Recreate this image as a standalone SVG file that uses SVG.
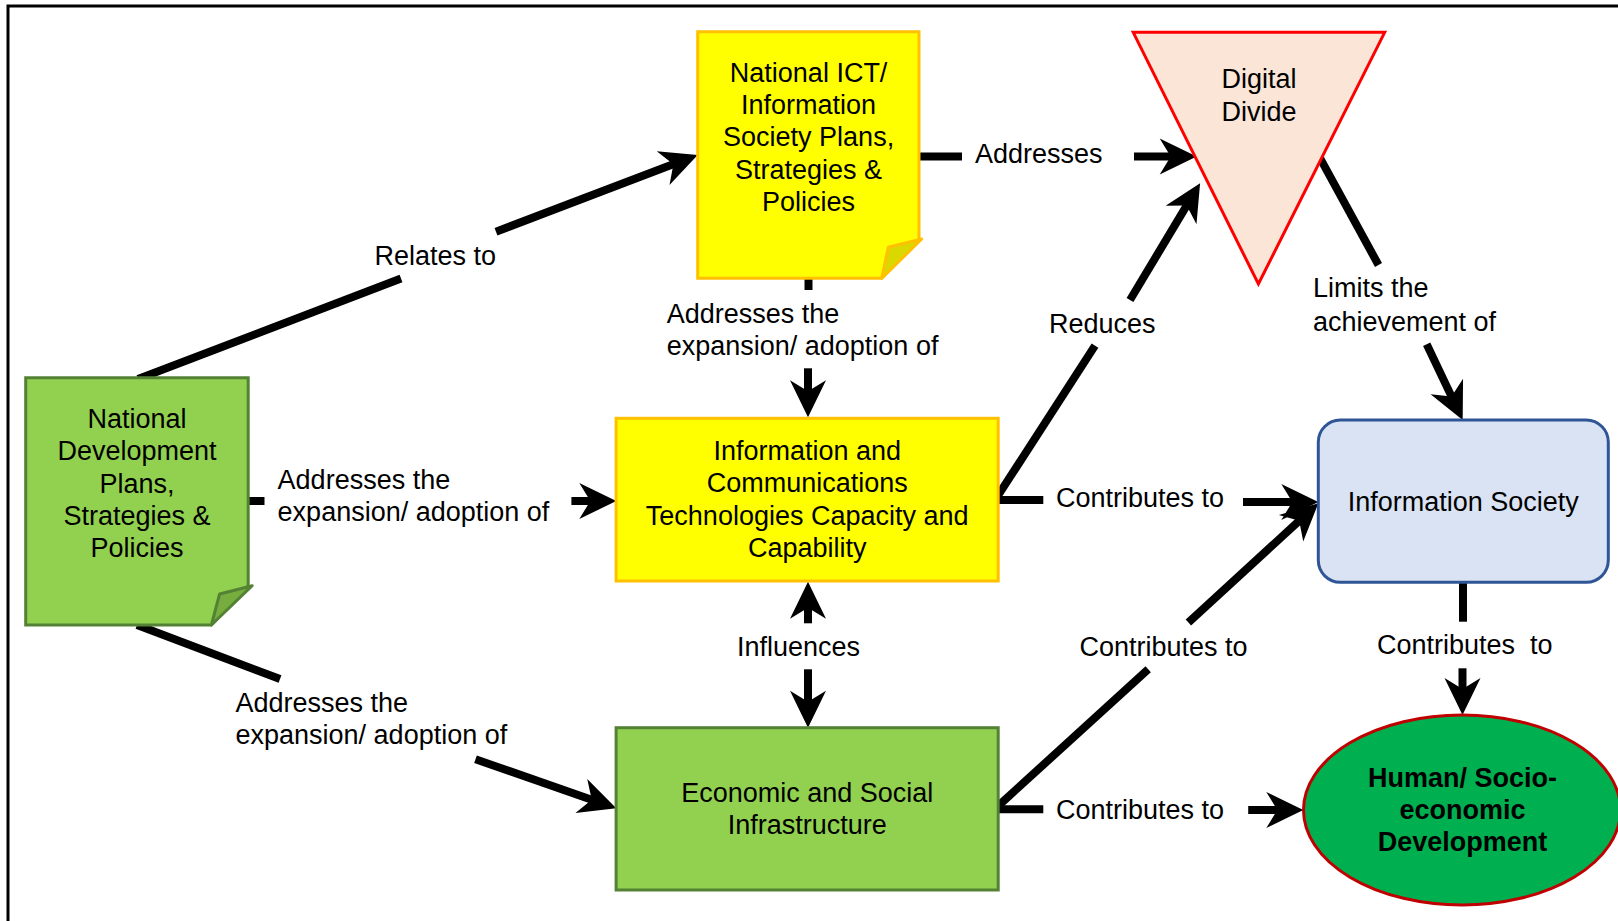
<svg xmlns="http://www.w3.org/2000/svg" width="1618" height="921" viewBox="0 0 1618 921">
  <style>
    text { font-family: "Liberation Sans", Arial, sans-serif; font-size: 27px; fill: #000; }
    .mid { text-anchor: middle; }
    .bold { font-weight: bold; }
    .edge { stroke: #000; stroke-width: 8; fill: none; stroke-linecap: butt; }
    .arrow { marker-end: url(#ah); }
  </style>
  <defs>
    <marker id="ah" viewBox="-1 -20 40 40" refX="17" refY="0" markerWidth="40" markerHeight="40" markerUnits="userSpaceOnUse" orient="auto" overflow="visible">
      <path d="M0,-18 L37,0 L0,18 L11,0 Z" fill="#000"/>
    </marker>
  </defs>

  <rect width="1618" height="921" fill="#fff"/>
  <!-- outer frame (open to the right and bottom) -->
  <path d="M8,930 V6 H1625" fill="none" stroke="#000" stroke-width="3"/>

  <!-- connectors -->
  <g id="connectors">
    <!-- Relates to -->
    <line class="edge" x1="138" y1="379" x2="401" y2="278.5"/>
    <line class="edge arrow" x1="496" y1="231.7" x2="679" y2="162.1"/>
    <!-- Addresses -->
    <line class="edge" x1="919" y1="156.5" x2="962" y2="156.5"/>
    <line class="edge arrow" x1="1134" y1="156.5" x2="1176.7" y2="156.5"/>
    <!-- ICT plans -> ICT capacity -->
    <line class="edge" x1="808.5" y1="278" x2="808.5" y2="290"/>
    <line class="edge arrow" x1="808" y1="368.3" x2="808" y2="397.3"/>
    <!-- Development plans -> ICT capacity -->
    <line class="edge" x1="248" y1="501" x2="264.5" y2="501"/>
    <line class="edge arrow" x1="571.4" y1="501" x2="596.3" y2="501"/>
    <!-- Development plans -> infrastructure -->
    <line class="edge" x1="137" y1="625" x2="280" y2="679"/>
    <line class="edge arrow" x1="475.5" y1="759.3" x2="597.4" y2="801.7"/>
    <!-- Reduces -->
    <line class="edge" x1="997.3" y1="496.7" x2="1095" y2="345.7"/>
    <line class="edge arrow" x1="1130" y1="300" x2="1189.8" y2="200.4"/>
    <!-- ICT capacity -> Information Society -->
    <line class="edge" x1="997.3" y1="500" x2="1043.3" y2="500"/>
    <line class="edge arrow" x1="1243" y1="502" x2="1298.3" y2="502"/>
    <!-- Infrastructure -> Information Society -->
    <line class="edge" x1="997.3" y1="806.7" x2="1148.2" y2="669.3"/>
    <line class="edge arrow" x1="1188.4" y1="622.5" x2="1303.6" y2="516.8"/>
    <!-- Infrastructure -> development -->
    <line class="edge" x1="997.3" y1="809.3" x2="1043.3" y2="809.3"/>
    <line class="edge arrow" x1="1248.2" y1="810" x2="1283.3" y2="810"/>
    <!-- Influences (both ways) -->
    <line class="edge arrow" x1="808" y1="623.3" x2="808" y2="601.7"/>
    <line class="edge arrow" x1="808" y1="669.3" x2="808" y2="707.7"/>
    <!-- Limits the achievement of -->
    <line class="edge" x1="1320.2" y1="158.3" x2="1378.5" y2="265"/>
    <line class="edge arrow" x1="1426.7" y1="344.3" x2="1454.1" y2="401.9"/>
    <!-- Information Society -> development -->
    <line class="edge" x1="1463" y1="582" x2="1463" y2="621.7"/>
    <line class="edge arrow" x1="1462.5" y1="668.3" x2="1462.5" y2="695"/>
  </g>

  <!-- connector labels -->
  <g id="labels">
    <text x="374.5" y="265">Relates to</text>
    <text x="975" y="163">Addresses</text>
    <text x="666.7" y="322.8">Addresses the</text>
    <text x="666.7" y="354.5">expansion/ adoption of</text>
    <text x="277.6" y="488.8">Addresses the</text>
    <text x="277.6" y="520.5">expansion/ adoption of</text>
    <text x="235.5" y="711.5">Addresses the</text>
    <text x="235.5" y="743.8">expansion/ adoption of</text>
    <text x="1049" y="332.8">Reduces</text>
    <text x="1313" y="297">Limits the</text>
    <text x="1313" y="330.5">achievement of</text>
    <text x="1056" y="507">Contributes to</text>
    <text x="1079.5" y="655.5">Contributes to</text>
    <text x="1056" y="818.8">Contributes to</text>
    <text x="737" y="655.5">Influences</text>
    <text x="1377" y="653.8" xml:space="preserve">Contributes  to</text>
  </g>

  <!-- National ICT / Information Society plans (note) -->
  <g id="ict-plans">
    <path d="M697.7,31.7 H919 V240 L881.7,278.3 H697.7 Z" fill="#ffff00" stroke="#ffc000" stroke-width="3"/>
    <path d="M881.7,278.3 L888.3,247.3 L921.7,239 Z" fill="#d9d900" stroke="#ffc000" stroke-width="3" stroke-linejoin="round"/>
    <text class="mid" x="808.6" y="81.5">National ICT/</text>
    <text class="mid" x="808.6" y="113.9">Information</text>
    <text class="mid" x="808.6" y="146.3">Society Plans,</text>
    <text class="mid" x="808.6" y="178.7">Strategies &amp;</text>
    <text class="mid" x="808.6" y="211.1">Policies</text>
  </g>

  <!-- Digital Divide -->
  <g id="digital-divide">
    <path d="M1133.2,32.3 H1384.7 L1258.4,284 Z" fill="#fbe5d6" stroke="#ff0000" stroke-width="3"/>
    <text class="mid" x="1259" y="88.2">Digital</text>
    <text class="mid" x="1259" y="120.5">Divide</text>
  </g>

  <!-- National Development plans (note) -->
  <g id="dev-plans">
    <path d="M25.7,377.7 H248.2 V585.7 L211.4,625 H25.7 Z" fill="#92d050" stroke="#548235" stroke-width="3"/>
    <path d="M211.4,625 L219.6,594 L252.2,585.7 Z" fill="#77ad3e" stroke="#548235" stroke-width="3" stroke-linejoin="round"/>
    <text class="mid" x="137" y="427.8">National</text>
    <text class="mid" x="137" y="460.2">Development</text>
    <text class="mid" x="137" y="492.6">Plans,</text>
    <text class="mid" x="137" y="525">Strategies &amp;</text>
    <text class="mid" x="137" y="557.4">Policies</text>
  </g>

  <!-- ICT capacity and capability -->
  <g id="ict-capacity">
    <rect x="616.1" y="418.3" width="382.1" height="162.7" fill="#ffff00" stroke="#ffc000" stroke-width="3"/>
    <text class="mid" x="807.2" y="460">Information and</text>
    <text class="mid" x="807.2" y="492.4">Communications</text>
    <text class="mid" x="807.2" y="524.8">Technologies Capacity and</text>
    <text class="mid" x="807.2" y="557.2">Capability</text>
  </g>

  <!-- Economic and social infrastructure -->
  <g id="infrastructure">
    <rect x="616.1" y="727.7" width="382.1" height="162.3" fill="#92d050" stroke="#548235" stroke-width="3"/>
    <text class="mid" x="807.2" y="802">Economic and Social</text>
    <text class="mid" x="807.2" y="834.4">Infrastructure</text>
  </g>

  <!-- Information Society -->
  <g id="info-society">
    <rect x="1318.3" y="420" width="290" height="162.3" rx="22" ry="22" fill="#dae3f3" stroke="#2f5597" stroke-width="3"/>
    <text class="mid" x="1463.3" y="510.5">Information Society</text>
  </g>

  <!-- Human / socio-economic development -->
  <g id="development">
    <ellipse cx="1462" cy="810" rx="158.5" ry="95" fill="#00b050" stroke="#c00000" stroke-width="3"/>
    <text class="mid bold" x="1462.5" y="787">Human/ Socio-</text>
    <text class="mid bold" x="1462.5" y="819">economic</text>
    <text class="mid bold" x="1462.5" y="851">Development</text>
  </g>
</svg>
